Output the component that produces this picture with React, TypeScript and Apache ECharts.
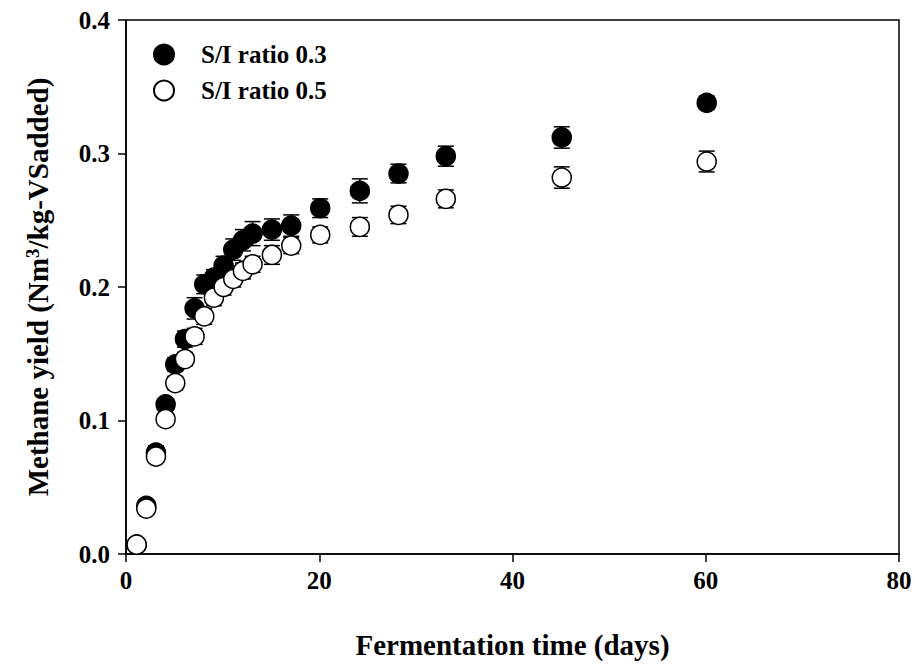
import React, { useEffect, useRef } from "react";
import * as echarts from "echarts";

const days = [1.1, 2.1, 3.1, 4.1, 5.1, 6.1, 7.1, 8.1, 9.1, 10.1, 11.1, 12.1, 13.1, 15.1, 17.1, 20.1, 24.2, 28.2, 33.1, 45.1, 60.1];
const ratio03 = [0.007, 0.036, 0.076, 0.112, 0.142, 0.161, 0.184, 0.202, 0.207, 0.216, 0.228, 0.235, 0.240, 0.243, 0.246, 0.259, 0.272, 0.285, 0.298, 0.312, 0.338];
const err03 = [0.002, 0.003, 0.005, 0.004, 0.005, 0.006, 0.008, 0.007, 0.006, 0.007, 0.008, 0.008, 0.009, 0.008, 0.008, 0.007, 0.009, 0.007, 0.0075, 0.008, 0.005];
const ratio05 = [0.007, 0.034, 0.073, 0.101, 0.128, 0.146, 0.163, 0.178, 0.192, 0.200, 0.206, 0.212, 0.217, 0.224, 0.231, 0.239, 0.245, 0.254, 0.266, 0.282, 0.294];
const err05 = [0.002, 0.003, 0.004, 0.004, 0.005, 0.005, 0.006, 0.006, 0.006, 0.006, 0.006, 0.006, 0.006, 0.007, 0.006, 0.006, 0.007, 0.0065, 0.0067, 0.008, 0.0078];
const seriesNames = ["S/I ratio 0.3", "S/I ratio 0.5"];
const xTicks = [0, 20, 40, 60, 80];
const yTicks = [0, 0.1, 0.2, 0.3, 0.4];

const FONT = '"Liberation Serif", "Times New Roman", serif';

function errData(ys: number[], es: number[]) {
  return days.map((d, i) => [d, ys[i] - es[i], ys[i] + es[i]]);
}

function renderErr(params: any, api: any) {
  const x = api.value(0);
  const lo = api.value(1);
  const hi = api.value(2);
  const pHi = api.coord([x, hi]);
  const pLo = api.coord([x, lo]);
  const hw = 8;
  const style = { stroke: "#000", lineWidth: 1.5 };
  return {
    type: "group",
    children: [
      { type: "line", shape: { x1: pHi[0], y1: pHi[1], x2: pLo[0], y2: pLo[1] }, style },
      { type: "line", shape: { x1: pHi[0] - hw, y1: pHi[1], x2: pHi[0] + hw, y2: pHi[1] }, style },
      { type: "line", shape: { x1: pLo[0] - hw, y1: pLo[1], x2: pLo[0] + hw, y2: pLo[1] }, style },
    ],
  };
}

export default function App() {
  const ref = useRef<HTMLDivElement>(null);
  useEffect(() => {
    if (!ref.current) return;
    const chart = echarts.init(ref.current, null, { renderer: "svg" });
    const labelStyle = { fontFamily: FONT, fontWeight: "bold" as const, color: "#000" };
    chart.setOption({
      animation: false,
      backgroundColor: "#fff",
      grid: {
        left: 126,
        right: 16,
        top: 20,
        bottom: 105,
        show: true,
        borderColor: "#000",
        borderWidth: 1.5,
      },
      legend: {
        orient: "vertical",
        left: 148,
        top: 37,
        itemWidth: 20,
        itemHeight: 20,
        itemGap: 11,
        data: seriesNames,
        textStyle: { ...labelStyle, fontSize: 25, padding: [0, 0, 0, 22] },
      },
      xAxis: {
        type: "value",
        min: xTicks[0],
        max: xTicks[xTicks.length - 1],
        interval: 20,
        name: "Fermentation time (days)",
        nameLocation: "middle",
        nameGap: 76,
        nameTextStyle: { ...labelStyle, fontSize: 29 },
        axisLine: { lineStyle: { color: "#000", width: 1.5 } },
        axisTick: { length: 8, lineStyle: { color: "#000", width: 1.5 } },
        axisLabel: { ...labelStyle, fontSize: 25, margin: 14 },
        splitLine: { show: false },
      },
      yAxis: {
        type: "value",
        min: yTicks[0],
        max: yTicks[yTicks.length - 1],
        interval: 0.1,
        name: "{a|Methane yield (Nm}{s|3}{a|/kg-VSadded)}",
        nameLocation: "middle",
        nameRotate: 90,
        nameGap: 74,
        nameTextStyle: {
          ...labelStyle,
          fontSize: 29,
          rich: {
            a: { ...labelStyle, fontSize: 29 },
            s: { ...labelStyle, fontSize: 19, verticalAlign: "top", padding: [0, 0, 10, 0] },
          },
        },
        axisLine: { lineStyle: { color: "#000", width: 1.5 } },
        axisTick: { length: 8, lineStyle: { color: "#000", width: 1.5 } },
        axisLabel: {
          ...labelStyle,
          fontSize: 25,
          margin: 16,
          formatter: (v: number) => v.toFixed(1),
        },
        splitLine: { show: false },
      },
      series: [
        {
          type: "custom",
          name: "err03",
          z: 1,
          renderItem: renderErr,
          data: errData(ratio03, err03),
          encode: { x: 0, y: [1, 2] },
          silent: true,
        },
        {
          type: "scatter",
          name: seriesNames[0],
          z: 2,
          symbol: "circle",
          symbolSize: 19,
          itemStyle: { color: "#000", borderColor: "#000", borderWidth: 1.5, opacity: 1 },
          data: days.map((d, i) => [d, ratio03[i]]),
        },
        {
          type: "custom",
          name: "err05",
          z: 3,
          renderItem: renderErr,
          data: errData(ratio05, err05),
          encode: { x: 0, y: [1, 2] },
          silent: true,
        },
        {
          type: "scatter",
          name: seriesNames[1],
          z: 4,
          symbol: "circle",
          symbolSize: 19,
          itemStyle: { color: "#fff", borderColor: "#000", borderWidth: 1.5, opacity: 1 },
          data: days.map((d, i) => [d, ratio05[i]]),
        },
      ],
    });
    return () => chart.dispose();
  }, []);
  return (
    <div
      ref={ref}
      style={{ position: "fixed", left: 0, top: 0, width: 915, height: 664 }}
    />
  );
}
